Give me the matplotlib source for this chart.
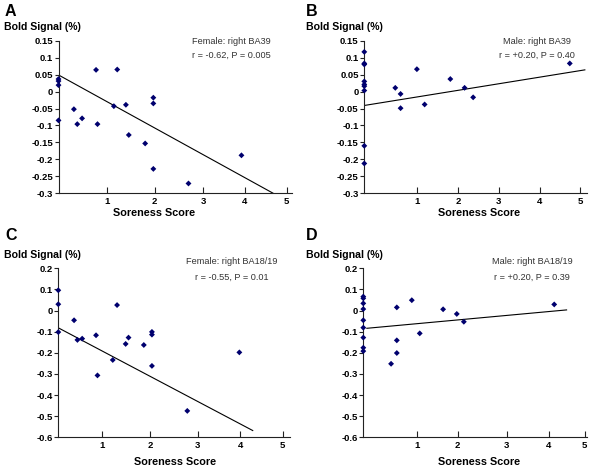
import numpy as np
import matplotlib
matplotlib.use("Agg")
import matplotlib.pyplot as plt

# === data ===
# score 0 subjects are drawn on the y axis, like in the original figure
A_SCORE = [0, 0, 0, 0, 0.32, 0.39, 0.49, 0.78, 0.81, 1.15, 1.22, 1.40, 1.46, 1.80, 1.97, 1.97, 1.97, 2.70, 3.80]
A_BOLD = [0.037, 0.031, 0.019, -0.085, -0.052, -0.096, -0.079, 0.064, -0.096, -0.043, 0.065, -0.039,
          -0.128, -0.153, -0.018, -0.035, -0.228, -0.271, -0.188]

B_SCORE = [0, 0, 0, 0, 0, 0, 0, 0, 0, 0.46, 0.59, 0.59, 0.99, 1.18, 1.81, 2.16, 2.37, 4.74]
B_BOLD = [0.117, 0.083, 0.080, 0.030, 0.021, 0.016, 0.003, -0.160, -0.212,
          0.011, -0.007, -0.049, 0.066, -0.038, 0.037, 0.011, -0.017, 0.083]

C_SCORE = [0, 0, 0, 0.41, 0.48, 0.58, 0.87, 0.90, 1.22, 1.31, 1.49, 1.55, 1.87, 2.04, 2.04, 2.04, 2.78, 3.87]
C_BOLD = [0.096, 0.030, -0.102, -0.046, -0.139, -0.133, -0.117, -0.307, -0.234, 0.026, -0.158,
          -0.128, -0.163, -0.101, -0.114, -0.262, -0.475, -0.198]

D_SCORE = [0, 0, 0, 0, 0, 0, 0, 0, 0, 0.55, 0.89, 1.07, 0.55, 0.55, 0.42, 1.60, 1.91, 2.07, 4.12]
D_BOLD = [0.066, 0.058, 0.034, 0.007, -0.046, -0.081, -0.128, -0.176, -0.192,
          0.015, 0.049, -0.108, -0.141, -0.201, -0.252, 0.006, -0.016, -0.053, 0.029]

# regression line end points (as drawn)
A_FIT_X, A_FIT_Y = [0, 4.46], [0.049, -0.300]
B_FIT_X, B_FIT_Y = [-0.30, 5.11], [-0.041, 0.064]
C_FIT_X, C_FIT_Y = [0.09, 4.15], [-0.083, -0.568]
D_FIT_X, D_FIT_Y = [-0.13, 4.40], [-0.084, 0.003]

LETTERS = ["A", "B", "C", "D"]
TITLES = ["Female: right BA39", "Male: right BA39", "Female: right BA18/19", "Male: right BA18/19"]
STATS = ["r = -0.62, P = 0.005", "r = +0.20, P = 0.40", "r = -0.55, P = 0.01", "r = +0.20, P = 0.39"]
X_TICK_LABELS = ["1", "2", "3", "4", "5"]
Y_TICKS_TOP = [0.15, 0.1, 0.05, 0, -0.05, -0.1, -0.15, -0.2, -0.25, -0.3]
Y_TICKS_BOTTOM = [0.2, 0.1, 0, -0.1, -0.2, -0.3, -0.4, -0.5, -0.6]

# === layout (pixels of a 600x470 canvas) ===
W, H = 600, 470
MARKER_COLOR = "#00006e"
TEXT_GRAY = "#333333"
plt.rcParams["font.family"] = ["Liberation Sans", "DejaVu Sans"]


def fx(px):
    return px / W


def fy(py):
    return 1 - py / H


def main():
    panels = [
        dict(score=A_SCORE, bold=A_BOLD, fit=(A_FIT_X, A_FIT_Y), yticks=Y_TICKS_TOP,
             box=(58.5, 40.7, 292, 193.3), xlim=(0, 4.85), xticks=[1, 2, 3, 3.87, 4.74],
             note=(231.7, 41, 55), letter=(5, 11.5), ylab=(4, 27), xlab=(154, 213)),
        dict(score=B_SCORE, bold=B_BOLD, fit=(B_FIT_X, B_FIT_Y), yticks=Y_TICKS_TOP,
             box=(364.3, 40.7, 587.3, 193.3), xlim=(-0.30, 5.17), xticks=[1, 2, 3, 4, 5],
             note=(537, 41, 55), letter=(306, 11.5), ylab=(306.5, 27), xlab=(479, 213)),
        dict(score=C_SCORE, bold=C_BOLD, fit=(C_FIT_X, C_FIT_Y), yticks=Y_TICKS_BOTTOM,
             box=(58.3, 268.3, 290, 437.3), xlim=(0.08, 4.93), xticks=[1, 2, 3, 3.89, 4.78],
             note=(231.7, 261.7, 277.3), letter=(5, 235), ylab=(4, 255), xlab=(175, 461.7)),
        dict(score=D_SCORE, bold=D_BOLD, fit=(D_FIT_X, D_FIT_Y), yticks=Y_TICKS_BOTTOM,
             box=(363.3, 268.3, 587.3, 437.3), xlim=(-0.21, 4.87), xticks=[1, 1.93, 3.04, 4, 4.81],
             note=(532, 261.7, 277.3), letter=(306, 235), ylab=(306.5, 255), xlab=(479, 461.7)),
    ]

    fig = plt.figure(figsize=(W / 100, H / 100), dpi=100)

    for i, p in enumerate(panels):
        x0, y0, x1, y1 = p["box"]
        ax = fig.add_axes([fx(x0), fy(y1), fx(x1 - x0), (y1 - y0) / H])

        score = np.asarray(p["score"], dtype=float)
        bold = np.asarray(p["bold"], dtype=float)
        xmin = p["xlim"][0]
        # zero scores sit on the y axis
        score_plot = np.where(score == 0, xmin, score)

        ax.plot(p["fit"][0], p["fit"][1], color="black", lw=0.8, zorder=2)
        ax.scatter(score_plot, bold, marker="D", s=9, color=MARKER_COLOR,
                   edgecolors="none", zorder=3, clip_on=False)

        ax.set_xlim(*p["xlim"])
        ax.set_ylim(p["yticks"][-1], p["yticks"][0])
        ax.set_xticks(p["xticks"])
        ax.set_xticklabels(X_TICK_LABELS)
        ax.set_yticks(p["yticks"])
        ax.set_yticklabels([f"{v:g}" for v in p["yticks"]])

        for side in ("top", "right"):
            ax.spines[side].set_visible(False)
        for side in ("left", "bottom"):
            ax.spines[side].set_linewidth(0.8)
            ax.spines[side].set_color("#222222")

        ax.tick_params(axis="x", direction="in", length=4, width=0.8, pad=2.5,
                       labelsize=6.8, colors="#222222")
        ax.tick_params(axis="y", direction="out", length=3, width=0.8, pad=1,
                       labelsize=6.8, colors="#222222")
        for lab in ax.get_xticklabels() + ax.get_yticklabels():
            lab.set_fontweight("bold")
            lab.set_color("black")

        # text around the panel
        lx, ly = p["letter"]
        fig.text(fx(lx), fy(ly), LETTERS[i], fontsize=11.5, fontweight="bold",
                 ha="left", va="center")
        yx, yy = p["ylab"]
        fig.text(fx(yx), fy(yy), "Bold Signal (%)", fontsize=7.6, fontweight="bold",
                 ha="left", va="center")
        xx, xy = p["xlab"]
        fig.text(fx(xx), fy(xy), "Soreness Score", fontsize=7.8, fontweight="bold",
                 ha="center", va="center")
        nx, n1, n2 = p["note"]
        fig.text(fx(nx), fy(n1), TITLES[i], fontsize=6.6, color=TEXT_GRAY,
                 ha="center", va="center")
        fig.text(fx(nx), fy(n2), STATS[i], fontsize=6.6, color=TEXT_GRAY,
                 ha="center", va="center")

    fig.savefig("out.png", dpi=100)


if __name__ == "__main__":
    main()
